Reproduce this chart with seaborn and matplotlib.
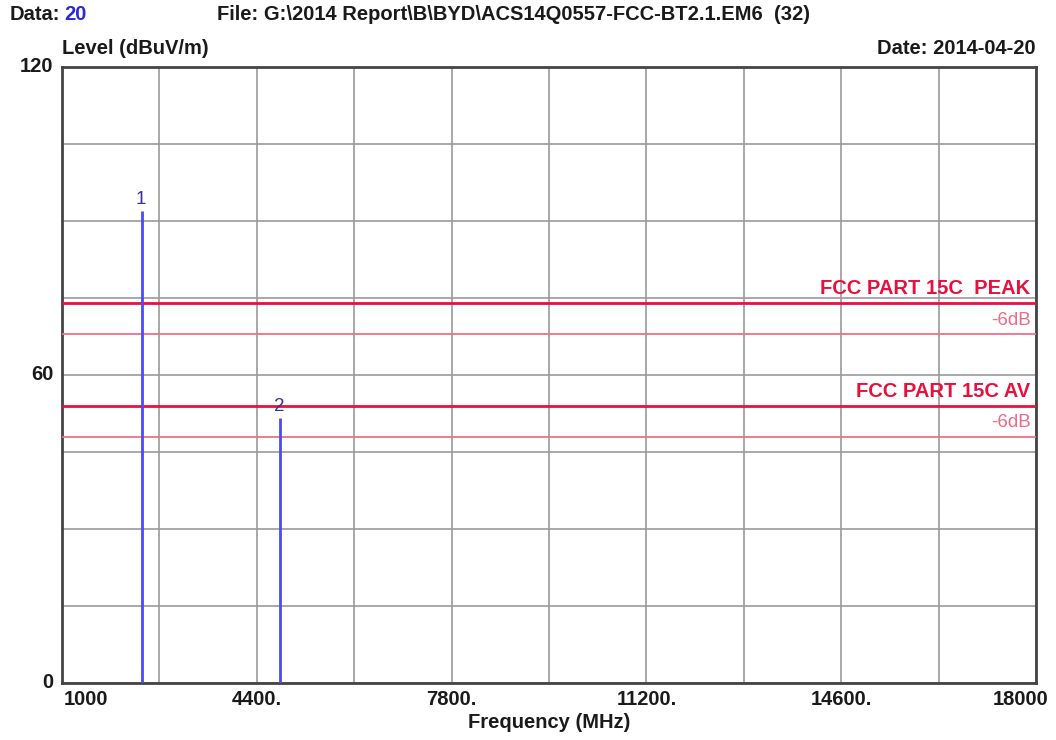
import numpy as np
import pandas as pd
import matplotlib
matplotlib.use("Agg")
import matplotlib.pyplot as plt
import seaborn as sns

# Data
freq_range = [1000, 18000]
x_ticks = [1000, 4400, 7800, 11200, 14600, 18000]
x_tick_labels = ["1000", "4400.", "7800.", "11200.", "14600.", "18000"]
y_ticks = [0, 60, 120]
marker_ids = ["1", "2"]
marker_freq = [2402, 4804]
marker_level = [92.0, 51.6]
limit_names = ["FCC PART 15C  PEAK", "-6dB", "FCC PART 15C AV", "-6dB"]
limit_levels = [74, 68, 54, 48]

sns.set_style("white")
plt.rcParams['font.family'] = ['Liberation Sans', 'DejaVu Sans']

FS = 14.5
TXT = "#1a1a1a"

fig = plt.figure(figsize=(10.56, 7.40), dpi=100)
ax = fig.add_axes([62 / 1056, 1 - 683 / 740, 974 / 1056, 616 / 740])

# limit lines
limit_colors = ["#e8103c", "#f07088", "#e8103c", "#f07088"]
limit_widths = [2.0, 1.3, 2.0, 1.3]
for name, lvl, col, lw in zip(limit_names, limit_levels, limit_colors, limit_widths):
    df = pd.DataFrame({"f": freq_range, "lvl": [lvl, lvl]})
    sns.lineplot(data=df, x="f", y="lvl", color=col, linewidth=lw, ax=ax, zorder=3)
    bold = "PART" in name
    ax.text(17905, lvl + 1.0, name, ha="right", va="bottom",
            color=col if bold else "#f06a84", fontsize=FS if bold else 13.5,
            fontweight="bold" if bold else "normal", zorder=4)

# marker lines
ax.vlines(marker_freq, 0, marker_level, color="#4a4aff", linewidth=2.0, zorder=5)
for mid, f, lvl in zip(marker_ids, marker_freq, marker_level):
    ax.text(f - 20, lvl + 0.6, mid, ha="center", va="bottom", color="#34349a",
            fontsize=13.5, zorder=6)

ax.set_xlim(freq_range)
ax.set_ylim(0, 120)
ax.set_xticks(np.arange(1000, 18001, 1700))
ax.set_yticks(np.arange(0, 121, 15))
ax.grid(True, color="#9a9a9a", linewidth=1.2)
ax.tick_params(length=0, labelbottom=False, labelleft=False)
for s in ax.spines.values():
    s.set_color("#444444")
    s.set_linewidth(2.0)
ax.set_xlabel("")
ax.set_ylabel("")

# tick labels
for v, lab in zip(x_ticks, x_tick_labels):
    ha = "center"
    off = 0
    if v == x_ticks[0]:
        ha, off = "left", 30
    elif v == x_ticks[-1]:
        ha, off = "right", 210
    ax.text(v + off, -1.3, lab, ha=ha, va="top", fontsize=FS, fontweight="bold",
            color=TXT)
for v in y_ticks:
    ax.text(-0.009, v, str(v), transform=ax.get_yaxis_transform(), ha="right",
            va="center", fontsize=FS, fontweight="bold", color=TXT)

fig.text(549 / 1056, 1 - 722 / 740, "Frequency (MHz)", ha="center", va="center",
         fontsize=FS, fontweight="bold", color=TXT)
fig.text(62 / 1056, 1 - 48 / 740, "Level (dBuV/m)", ha="left", va="center",
         fontsize=FS, fontweight="bold", color=TXT)
fig.text(1036 / 1056, 1 - 48 / 740, "Date: 2014-04-20", ha="right", va="center",
         fontsize=FS, fontweight="bold", color=TXT)
fig.text(10 / 1056, 1 - 15 / 740, "Data:", ha="left", va="center",
         fontsize=FS, fontweight="bold", color=TXT)
fig.text(64 / 1056, 1 - 15 / 740, "20", ha="left", va="center",
         fontsize=FS, fontweight="bold", color="#2a2ad0")
fig.text(217 / 1056, 1 - 15 / 740,
         "File: G:\\2014 Report\\B\\BYD\\ACS14Q0557-FCC-BT2.1.EM6  (32)",
         ha="left", va="center", fontsize=FS, fontweight="bold", color=TXT)

fig.savefig("out.png", dpi=100, facecolor="white")
